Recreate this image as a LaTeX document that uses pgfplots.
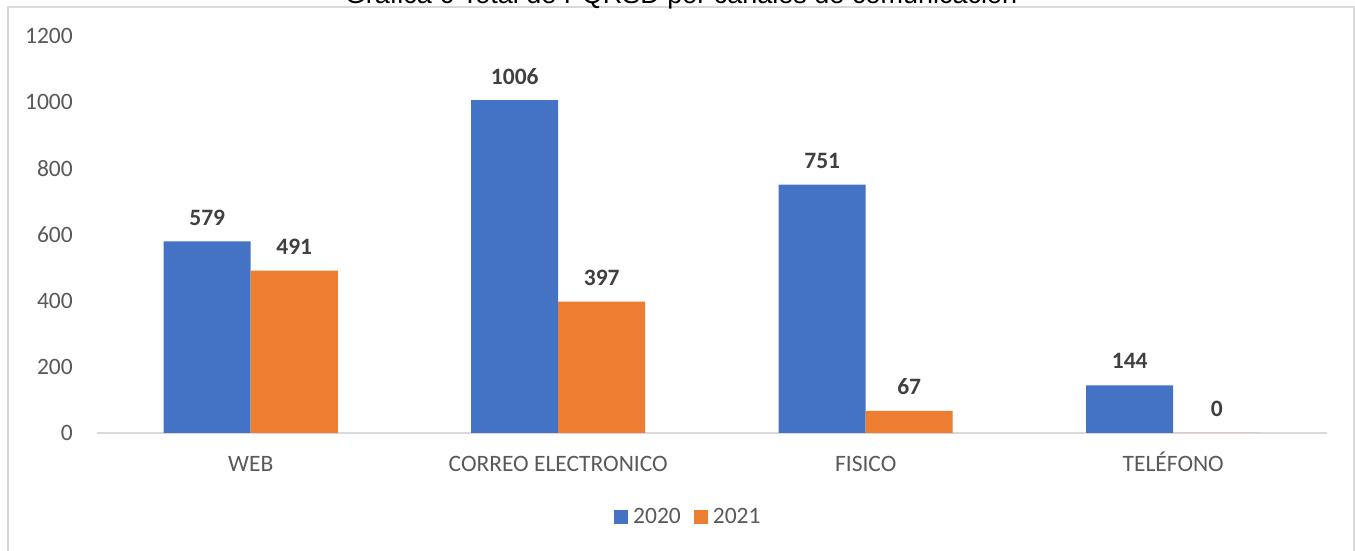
\documentclass[border=0pt]{standalone}
\usepackage{pgfplots}
\pgfplotsset{compat=1.18}
\usepackage{fontspec}
\setmainfont{Carlito}
\newfontfamily\titlefont{Liberation Sans}
\definecolor{cblue}{HTML}{4472C4}
\definecolor{corange}{HTML}{ED7D31}
\definecolor{lbl}{HTML}{404040}
\definecolor{tick}{HTML}{595959}
\definecolor{frame}{HTML}{D9D9D9}
\begin{document}
\begin{tikzpicture}[x=1bp,y=1bp]
\useasboundingbox (0,0) rectangle (1355,551);
\draw[frame, line width=1.5bp] (8,-10) -- (8,544) -- (1354,544) -- (1354,-10);
\node[anchor=base, inner sep=0pt, font=\titlefont\fontsize{27bp}{32bp}\selectfont] at (681,547.5) {Gráfica 6 Total de PQRSD por canales de comunicación};
\begin{axis}[
  at={(97bp,118bp)}, anchor=south west,
  width=1230bp, height=397bp, scale only axis,
  xmin=-0.5, xmax=3.5, ymin=0, ymax=1200,
  ybar, bar width=87bp, 
  xtick={0,1,2,3},
  xticklabels={WEB,CORREO ELECTRONICO,FISICO,TELÉFONO},
  ytick={0,200,...,1200},
  axis lines*=left,
  y axis line style={draw=none},
  x axis line style={draw=frame, line width=1.3bp},
  major tick length=0pt,
  tick style={draw=none},
  /pgf/number format/assume math mode=true,
  /pgf/number format/1000 sep={},
  ticklabel style={font=\fontsize{23.5bp}{28bp}\selectfont, text=tick},
  yticklabel style={inner sep=0pt, anchor=east, xshift=-24bp},
  xticklabel style={inner sep=0pt, anchor=base, yshift=-39bp},
  nodes near coords,
  every node near coord/.append style={font=\bfseries\fontsize{23.5bp}{28bp}\selectfont, text=lbl, anchor=center, yshift=24bp},
  legend columns=2,
  legend style={at={(0.482,-0.2116)}, anchor=center, draw=none, fill=none,
     font=\fontsize{23.5bp}{28bp}\selectfont, text=tick,
     nodes={inner xsep=5bp},
     /tikz/every even column/.append style={column sep=8bp}},
  legend image code/.code={\fill[#1] (0bp,-7bp) rectangle (14bp,7bp);},
]
\addplot[fill=cblue, draw=none, bar shift=-43.5bp] coordinates {(0,579) (1,1006) (2,751) (3,144)};
\addplot[fill=corange, draw=none, bar shift=43.5bp] coordinates {(0,491) (1,397) (2,67) (3,0)};
\legend{2020,2021}
\end{axis}
\end{tikzpicture}
\end{document}
